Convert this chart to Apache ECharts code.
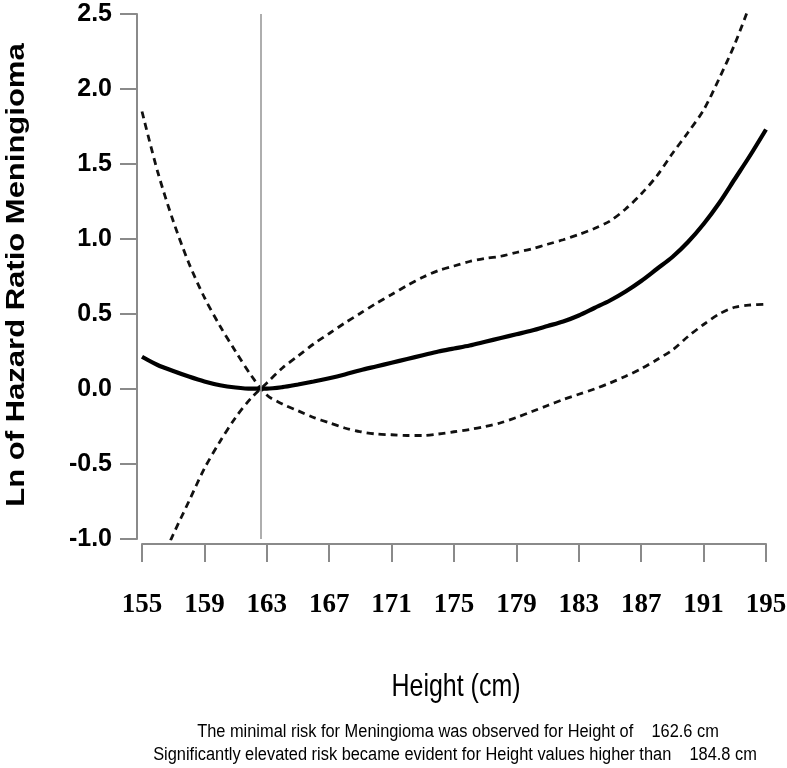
<!DOCTYPE html>
<html>
<head>
<meta charset="utf-8">
<script src="https://cdn.jsdelivr.net/npm/echarts@6/dist/echarts.min.js"></script>
<style>
  html, body { margin: 0; padding: 0; background: #ffffff; }
  #chart { width: 787px; height: 768px; }
</style>
</head>
<body>
<div id="chart"></div>
<script>
// ---- Data ----
const heights = [155, 156, 157, 158, 159, 160, 161, 162, 163, 164, 165, 166, 167, 168, 169, 170, 171, 172, 173, 174, 175,
                 176, 177, 178, 179, 180, 181, 182, 183, 184, 185, 186, 187, 188, 189, 190, 191, 192, 193, 194, 195];
const lnHazardRatio = [0.215, 0.16, 0.12, 0.083, 0.05, 0.025, 0.01, 0.002, 0.002, 0.012, 0.03, 0.05, 0.072, 0.097, 0.125, 0.15, 0.175, 0.2, 0.225, 0.25, 0.27,
                       0.29, 0.315, 0.34, 0.365, 0.39, 0.42, 0.45, 0.49, 0.54, 0.59, 0.65, 0.72, 0.8, 0.88, 0.98, 1.1, 1.24, 1.4, 1.56, 1.73];
const confBandA = [1.85, 1.45, 1.12, 0.84, 0.61, 0.42, 0.25, 0.09, -0.04, -0.1, -0.145, -0.19, -0.225, -0.26, -0.285, -0.3, -0.305, -0.31, -0.31, -0.3, -0.285,
                   -0.27, -0.25, -0.225, -0.19, -0.15, -0.11, -0.07, -0.035, 0, 0.04, 0.085, 0.135, 0.195, 0.26, 0.35, 0.43, 0.5, 0.545, 0.56, 0.565];
const confBandB = [-1.45, -1.2, -0.97, -0.75, -0.53, -0.35, -0.19, -0.06, 0.04, 0.14, 0.22, 0.3, 0.37, 0.44, 0.505, 0.57, 0.63, 0.69, 0.745, 0.79, 0.82,
                   0.85, 0.87, 0.885, 0.91, 0.935, 0.965, 0.995, 1.03, 1.07, 1.12, 1.2, 1.3, 1.42, 1.57, 1.71, 1.86, 2.07, 2.3, 2.57, 2.85];
const minimalRiskHeight = 162.6;
const xTickLabels = ['155', '159', '163', '167', '171', '175', '179', '183', '187', '191', '195'];
const yTickLabels = ['-1.0', '-0.5', '0.0', '0.5', '1.0', '1.5', '2.0', '2.5'];
const yTitle = 'Ln of Hazard Ratio Meningioma';
const xTitle = 'Height (cm)';
const note1 = 'The minimal risk for Meningioma was observed for Height of    162.6 cm';
const note2 = 'Significantly elevated risk became evident for Height values higher than    184.8 cm';

const pairs = (ys) => heights.map((h, i) => [h, ys[i]]);
const sans = '"Liberation Sans", Arial, sans-serif';
const serif = '"Liberation Serif", "Times New Roman", serif';

const chart = echarts.init(document.getElementById('chart'), null, { renderer: 'canvas' });
const axisGray = '#8a8a8a';

const option = {
  animation: false,
  backgroundColor: '#ffffff',
  grid: { left: 142, right: 21, top: 14, bottom: 229, containLabel: false, outerBoundsMode: 'none' },
  xAxis: {
    type: 'value', min: 155, max: 195, interval: 4, offset: 5,
    axisLine: { show: true, onZero: false, lineStyle: { color: axisGray, width: 2 } },
    axisTick: { show: true, length: 18, lineStyle: { color: axisGray, width: 2 } },
    axisLabel: {
      margin: 48, color: '#000', fontFamily: serif, fontWeight: 'bold', fontSize: 27,
      formatter: (v) => xTickLabels[Math.round((v - 155) / 4)] ?? ''
    },
    splitLine: { show: false }
  },
  yAxis: {
    type: 'value', min: -1, max: 2.5, interval: 0.5, offset: 5,
    axisLine: { show: true, onZero: false, lineStyle: { color: axisGray, width: 2 } },
    axisTick: { show: true, length: 17, lineStyle: { color: axisGray, width: 2 } },
    axisLabel: {
      margin: 25, color: '#000', fontFamily: sans, fontWeight: 'bold', fontSize: 25,
      formatter: (v) => yTickLabels[Math.round((v + 1) / 0.5)] ?? ''
    },
    splitLine: { show: false }
  },
  series: [
    {
      type: 'line', data: pairs(confBandA), smooth: 0.3, symbol: 'none', clip: true,
      lineStyle: { color: '#111', width: 2.8, type: [7, 5] }, z: 2
    },
    {
      type: 'line', data: pairs(confBandB), smooth: 0.3, symbol: 'none', clip: true,
      lineStyle: { color: '#111', width: 2.8, type: [7, 5] }, z: 2
    },
    {
      type: 'line', data: pairs(lnHazardRatio), smooth: 0.3, symbol: 'none', clip: true,
      lineStyle: { color: '#000', width: 4.2 }, z: 3,
      markLine: {
        silent: true, symbol: 'none', label: { show: false },
        lineStyle: { color: '#9a9a9a', width: 1.6, type: 'solid' },
        data: [{ xAxis: minimalRiskHeight }]
      }
    }
  ],
  graphic: [
    {
      type: 'text', x: 17, y: 275, rotation: Math.PI / 2, scaleX: 1.24,
      style: {
        text: yTitle, fill: '#000', font: 'bold 25px ' + sans,
        textAlign: 'center', textVerticalAlign: 'middle'
      }
    },
    {
      type: 'text', x: 456, y: 687, scaleX: 0.78,
      style: {
        text: xTitle, fill: '#000', font: '32px ' + sans,
        textAlign: 'center', textVerticalAlign: 'middle'
      }
    },
    {
      type: 'text', x: 458, y: 732, scaleX: 0.91,
      style: {
        text: note1, fill: '#000', font: '18px ' + sans,
        textAlign: 'center', textVerticalAlign: 'middle'
      }
    },
    {
      type: 'text', x: 455, y: 755, scaleX: 0.91,
      style: {
        text: note2, fill: '#000', font: '18px ' + sans,
        textAlign: 'center', textVerticalAlign: 'middle'
      }
    }
  ]
};
chart.setOption(option);
</script>
</body>
</html>
